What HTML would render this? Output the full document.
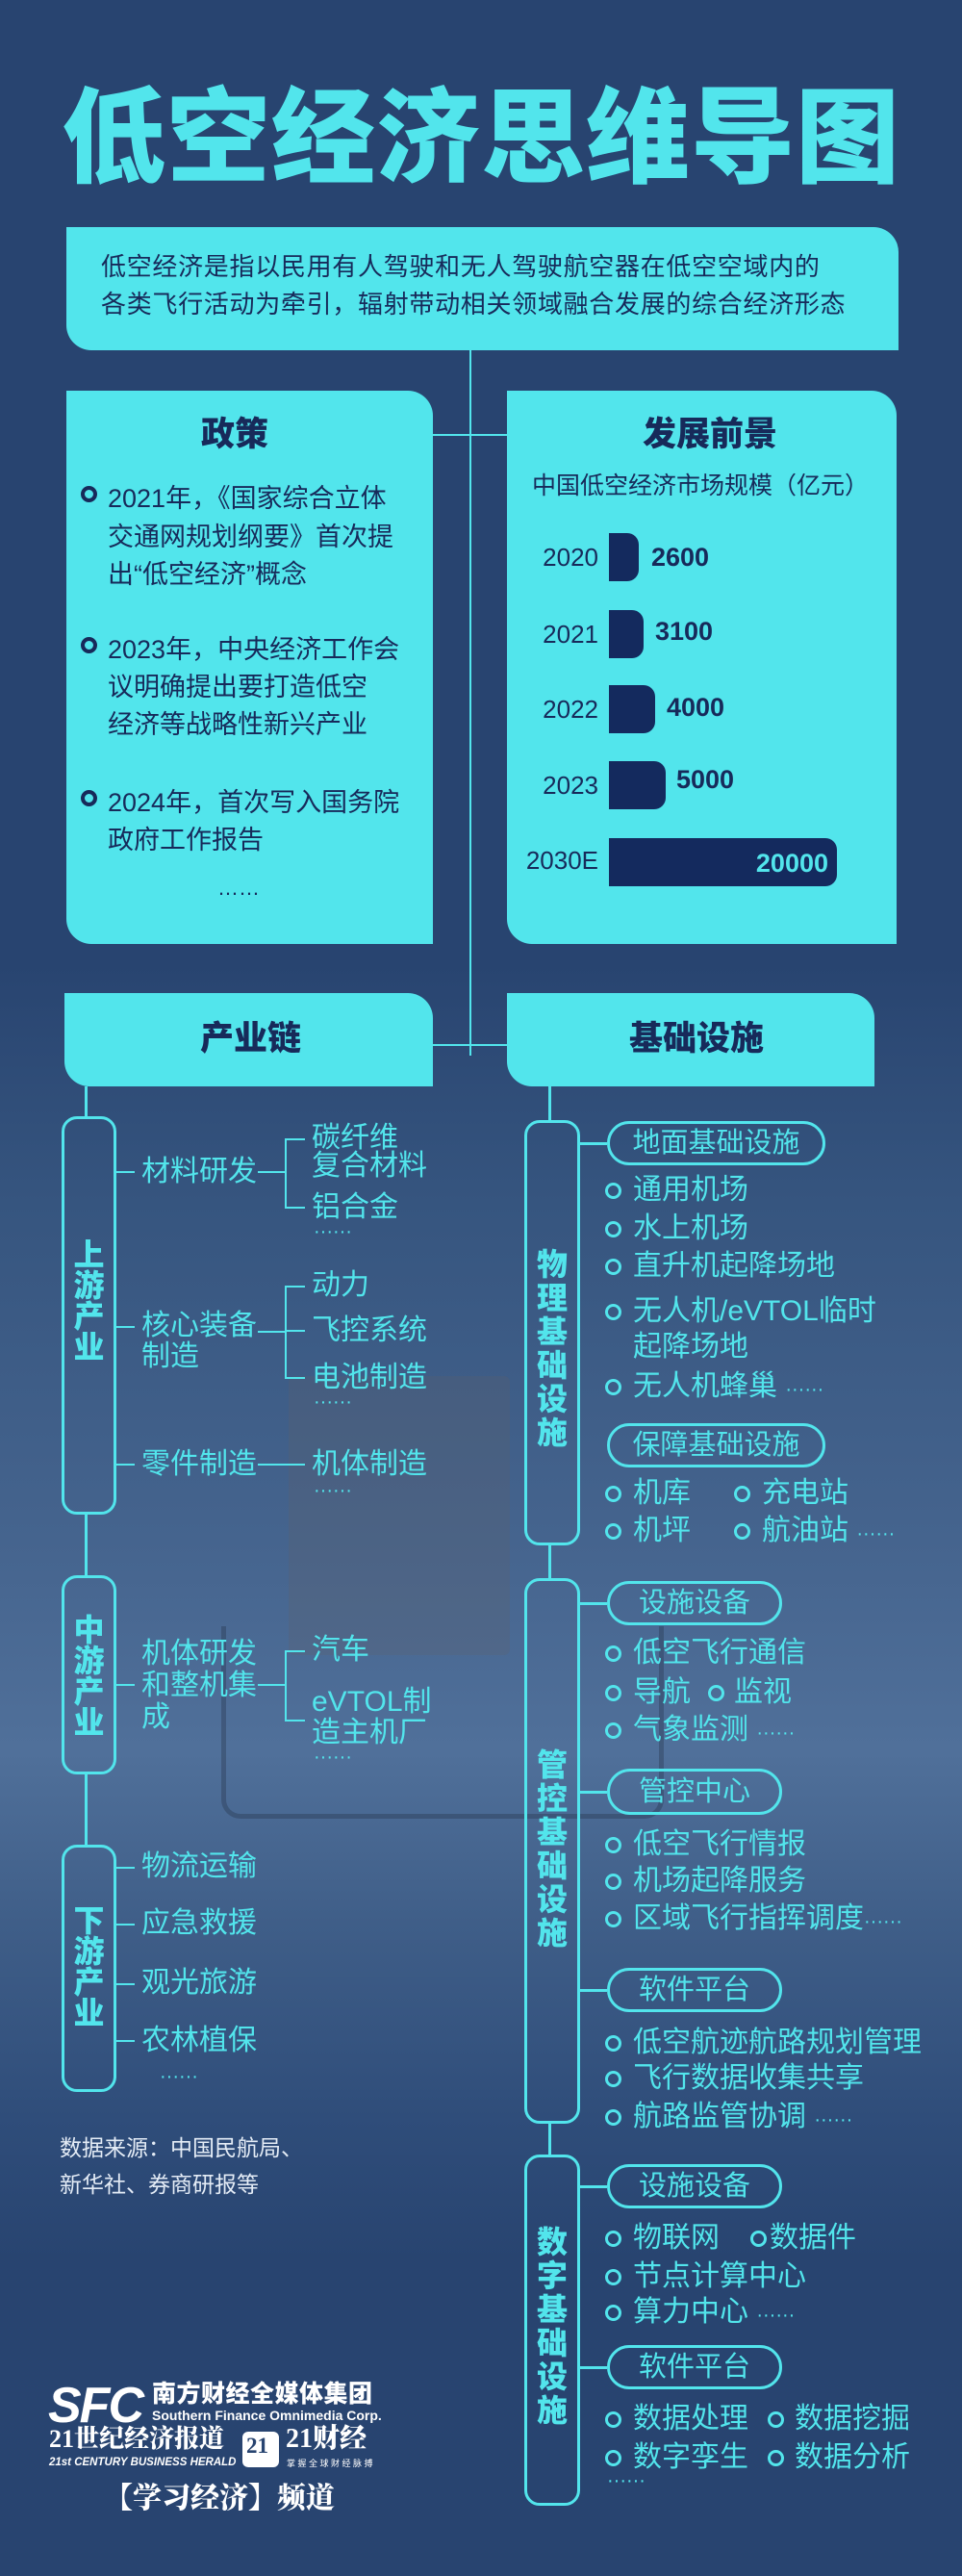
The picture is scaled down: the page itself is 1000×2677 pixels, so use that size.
<!DOCTYPE html>
<html><head><meta charset="utf-8">
<style>
*{margin:0;padding:0;box-sizing:border-box}
body{width:1000px;height:2677px;position:relative;background:#284470;overflow:hidden;font-family:"Liberation Sans","Noto Sans CJK SC",sans-serif}
.a{position:absolute}
.t{position:absolute;white-space:nowrap;line-height:1}
.c{color:#52e5ec}
.n{color:#172a5a}
.hl{position:absolute;background:#52e5ec;height:3px}
.vl{position:absolute;background:#52e5ec;width:3px}
.box{position:absolute;background:#52e5ec;border-radius:0 26px 0 26px}
.pill{position:absolute;border:3px solid #52e5ec;border-radius:16px}
.sp{position:absolute;border:3px solid #52e5ec;border-radius:24px;color:#52e5ec;font-size:29px;text-align:center}
.vt{position:absolute;color:#52e5ec;font-weight:900;font-size:32px;text-align:center;white-space:normal}
.ring{position:absolute;width:17px;height:17px;border:3.5px solid #52e5ec;border-radius:50%}
.nr{position:absolute;width:17px;height:17px;border:4px solid #172a5a;border-radius:50%}
.it{position:absolute;white-space:nowrap;line-height:1;color:#52e5ec;font-size:30px}
.bar{position:absolute;background:#142a5e;border-radius:0 12px 12px 0;height:50px}
</style></head><body>
<div class="a" style="left:0;top:1000px;width:1000px;height:1350px;background:linear-gradient(to bottom,#284470 0,#36557f 250px,#45648e 600px,#50709a 820px,#3f5e88 1000px,#2f4d7a 1200px,#284470 1350px)"></div>
<div class="a" style="left:300px;top:1430px;width:230px;height:290px;background:rgba(95,95,105,0.25);border-radius:6px"></div>
<div class="a" style="left:230px;top:1690px;width:460px;height:200px;border:5px solid rgba(30,40,60,0.3);border-top:none;border-radius:0 0 20px 20px"></div>

<div class="t c" style="left:64px;top:90px;font-size:108px;font-weight:900;letter-spacing:1px">低空经济思维导图</div>

<div class="box" style="left:69px;top:236px;width:865px;height:128px"></div>
<div class="t n" style="left:105px;top:264px;font-size:26px;letter-spacing:0.7px">低空经济是指以民用有人驾驶和无人驾驶航空器在低空空域内的</div>
<div class="t n" style="left:105px;top:303px;font-size:26px;letter-spacing:0.7px">各类飞行活动为牵引，辐射带动相关领域融合发展的综合经济形态</div>

<div class="a" style="left:488px;top:364px;width:2px;height:733px;background:#52e5ec"></div>
<div class="a" style="left:450px;top:451px;width:77px;height:2px;background:#52e5ec"></div>
<div class="a" style="left:450px;top:1085px;width:77px;height:2px;background:#52e5ec"></div>

<div class="box" style="left:69px;top:406px;width:381px;height:575px"></div>
<div class="t n" style="left:209px;top:434px;font-size:35px;font-weight:900">政策</div>
<div class="nr" style="left:84px;top:505px"></div>
<div class="t n" style="left:112px;top:499px;font-size:27px;line-height:39.5px">2021年，《国家综合立体<br>交通网规划纲要》首次提<br>出“低空经济”概念</div>
<div class="nr" style="left:84px;top:662px"></div>
<div class="t n" style="left:112px;top:656px;font-size:27px;line-height:39px">2023年，中央经济工作会<br>议明确提出要打造低空<br>经济等战略性新兴产业</div>
<div class="nr" style="left:84px;top:821px"></div>
<div class="t n" style="left:112px;top:815px;font-size:27px;line-height:39px">2024年，首次写入国务院<br>政府工作报告</div>
<div class="t n" style="left:226px;top:912px;font-size:22px">……</div>

<div class="box" style="left:527px;top:406px;width:405px;height:575px"></div>
<div class="t n" style="left:668px;top:434px;font-size:35px;font-weight:900">发展前景</div>
<div class="t n" style="left:553px;top:493px;font-size:25px">中国低空经济市场规模（亿元）</div>
<div class="t n" style="left:522px;top:566px;width:100px;text-align:right;font-size:26px">2020</div>
<div class="bar" style="left:633px;top:554px;width:31px"></div>
<div class="t n" style="left:677px;top:566px;font-size:27px;font-weight:bold">2600</div>
<div class="t n" style="left:522px;top:646px;width:100px;text-align:right;font-size:26px">2021</div>
<div class="bar" style="left:633px;top:634px;width:36px"></div>
<div class="t n" style="left:681px;top:643px;font-size:27px;font-weight:bold">3100</div>
<div class="t n" style="left:522px;top:724px;width:100px;text-align:right;font-size:26px">2022</div>
<div class="bar" style="left:633px;top:712px;width:48px"></div>
<div class="t n" style="left:693px;top:722px;font-size:27px;font-weight:bold">4000</div>
<div class="t n" style="left:522px;top:803px;width:100px;text-align:right;font-size:26px">2023</div>
<div class="bar" style="left:633px;top:791px;width:59px"></div>
<div class="t n" style="left:703px;top:797px;font-size:27px;font-weight:bold">5000</div>
<div class="t n" style="left:510px;top:881px;width:112px;text-align:right;font-size:26px">2030E</div>
<div class="bar" style="left:633px;top:871px;width:237px"></div>
<div class="t c" style="left:633px;top:884px;width:228px;text-align:right;font-size:27px;font-weight:bold">20000</div>

<div class="box" style="left:67px;top:1032px;width:383px;height:97px"></div>
<div class="t n" style="left:208px;top:1062px;font-size:35px;font-weight:900">产业链</div>
<div class="box" style="left:527px;top:1032px;width:382px;height:97px"></div>
<div class="t n" style="left:654px;top:1062px;font-size:35px;font-weight:900">基础设施</div>

<div class="vl" style="left:88px;top:1129px;height:31px"></div>
<div class="vl" style="left:88px;top:1574px;height:63px"></div>
<div class="vl" style="left:88px;top:1844px;height:73px"></div>

<div class="pill" style="left:64px;top:1160px;width:57px;height:414px"></div>
<div class="vt" style="left:64px;top:1288px;width:57px;line-height:32px">上游产业</div>
<div class="pill" style="left:64px;top:1637px;width:57px;height:207px"></div>
<div class="vt" style="left:64px;top:1678px;width:57px;line-height:32px">中游产业</div>
<div class="pill" style="left:64px;top:1917px;width:57px;height:257px"></div>
<div class="vt" style="left:64px;top:1980px;width:57px;line-height:32px">下游产业</div>

<div class="hl" style="left:121px;top:1217px;width:19px;height:2px"></div>
<div class="it" style="left:147px;top:1203px">材料研发</div>
<div class="hl" style="left:268px;top:1217px;width:29px;height:2px"></div>
<div class="a" style="left:296px;top:1183px;width:2px;height:73px;background:#52e5ec"></div>
<div class="hl" style="left:296px;top:1183px;width:21px;height:2px"></div>
<div class="hl" style="left:296px;top:1254px;width:21px;height:2px"></div>
<div class="it" style="left:324px;top:1168px">碳纤维</div>
<div class="it" style="left:324px;top:1197px">复合材料</div>
<div class="it" style="left:324px;top:1240px">铝合金</div>
<div class="it" style="left:326px;top:1270px;font-size:20px">······</div>

<div class="hl" style="left:121px;top:1378px;width:19px;height:2px"></div>
<div class="it" style="left:147px;top:1362px;line-height:32px">核心装备<br>制造</div>
<div class="hl" style="left:268px;top:1383px;width:29px;height:2px"></div>
<div class="a" style="left:296px;top:1336px;width:2px;height:97px;background:#52e5ec"></div>
<div class="hl" style="left:296px;top:1336px;width:21px;height:2px"></div>
<div class="hl" style="left:296px;top:1382px;width:21px;height:2px"></div>
<div class="hl" style="left:296px;top:1431px;width:21px;height:2px"></div>
<div class="it" style="left:324px;top:1321px">动力</div>
<div class="it" style="left:324px;top:1368px">飞控系统</div>
<div class="it" style="left:324px;top:1417px">电池制造</div>
<div class="it" style="left:326px;top:1447px;font-size:20px">······</div>

<div class="hl" style="left:121px;top:1521px;width:19px;height:2px"></div>
<div class="it" style="left:147px;top:1507px">零件制造</div>
<div class="hl" style="left:268px;top:1521px;width:49px;height:2px"></div>
<div class="it" style="left:324px;top:1507px">机体制造</div>
<div class="it" style="left:326px;top:1539px;font-size:20px">······</div>

<div class="hl" style="left:121px;top:1750px;width:19px;height:2px"></div>
<div class="it" style="left:147px;top:1702px;line-height:33px">机体研发<br>和整机集<br>成</div>
<div class="hl" style="left:268px;top:1750px;width:29px;height:2px"></div>
<div class="a" style="left:296px;top:1715px;width:2px;height:74px;background:#52e5ec"></div>
<div class="hl" style="left:296px;top:1715px;width:21px;height:2px"></div>
<div class="hl" style="left:296px;top:1787px;width:21px;height:2px"></div>
<div class="it" style="left:324px;top:1700px">汽车</div>
<div class="it" style="left:324px;top:1753px;line-height:32px">eVTOL制<br>造主机厂</div>
<div class="it" style="left:326px;top:1816px;font-size:20px">······</div>

<div class="hl" style="left:121px;top:1940px;width:19px;height:2px"></div>
<div class="it" style="left:147px;top:1925px">物流运输</div>
<div class="hl" style="left:121px;top:1999px;width:19px;height:2px"></div>
<div class="it" style="left:147px;top:1984px">应急救援</div>
<div class="hl" style="left:121px;top:2061px;width:19px;height:2px"></div>
<div class="it" style="left:147px;top:2046px">观光旅游</div>
<div class="hl" style="left:121px;top:2120px;width:19px;height:2px"></div>
<div class="it" style="left:147px;top:2106px">农林植保</div>
<div class="it" style="left:166px;top:2148px;font-size:20px">······</div>

<div class="t" style="left:62px;top:2213px;font-size:23px;color:#e4ecf6;line-height:38px">数据来源：中国民航局、<br>新华社、券商研报等</div>

<div class="vl" style="left:570px;top:1129px;height:35px"></div>
<div class="vl" style="left:570px;top:1606px;height:34px"></div>
<div class="vl" style="left:570px;top:2207px;height:32px"></div>

<div class="pill" style="left:545px;top:1164px;width:58px;height:442px"></div>
<div class="vt" style="left:545px;top:1297px;width:58px;line-height:35px">物理基础设施</div>
<div class="pill" style="left:545px;top:1640px;width:58px;height:567px"></div>
<div class="vt" style="left:545px;top:1817px;width:58px;line-height:35px">管控基础设施</div>
<div class="pill" style="left:545px;top:2239px;width:58px;height:365px"></div>
<div class="vt" style="left:545px;top:2313px;width:58px;line-height:35px">数字基础设施</div>

<div class="hl" style="left:603px;top:1187px;width:28px"></div>
<div class="sp" style="left:631px;top:1165px;width:227px;height:46px;line-height:40px">地面基础设施</div>
<div class="ring" style="left:629px;top:1229px"></div><div class="it" style="left:658px;top:1222px">通用机场</div>
<div class="ring" style="left:629px;top:1269px"></div><div class="it" style="left:658px;top:1262px">水上机场</div>
<div class="ring" style="left:629px;top:1308px"></div><div class="it" style="left:658px;top:1301px">直升机起降场地</div>
<div class="ring" style="left:629px;top:1355px"></div><div class="it" style="left:658px;top:1348px">无人机/eVTOL临时</div>
<div class="it" style="left:658px;top:1385px">起降场地</div>
<div class="ring" style="left:629px;top:1433px"></div><div class="it" style="left:658px;top:1426px">无人机蜂巢 <span style="font-size:20px">······</span></div>
<div class="sp" style="left:631px;top:1479px;width:227px;height:46px;line-height:40px">保障基础设施</div>
<div class="ring" style="left:629px;top:1544px"></div><div class="it" style="left:658px;top:1537px">机库</div>
<div class="ring" style="left:763px;top:1544px"></div><div class="it" style="left:792px;top:1537px">充电站</div>
<div class="ring" style="left:629px;top:1583px"></div><div class="it" style="left:658px;top:1576px">机坪</div>
<div class="ring" style="left:763px;top:1583px"></div><div class="it" style="left:792px;top:1576px">航油站 <span style="font-size:20px">······</span></div>

<div class="hl" style="left:603px;top:1665px;width:28px"></div>
<div class="sp" style="left:631px;top:1643px;width:182px;height:46px;line-height:40px">设施设备</div>
<div class="ring" style="left:629px;top:1710px"></div><div class="it" style="left:658px;top:1703px">低空飞行通信</div>
<div class="ring" style="left:629px;top:1751px"></div><div class="it" style="left:658px;top:1744px">导航</div>
<div class="ring" style="left:736px;top:1751px"></div><div class="it" style="left:763px;top:1744px">监视</div>
<div class="ring" style="left:629px;top:1790px"></div><div class="it" style="left:658px;top:1783px">气象监测 <span style="font-size:20px">······</span></div>
<div class="hl" style="left:603px;top:1861px;width:28px"></div>
<div class="sp" style="left:631px;top:1838px;width:182px;height:48px;line-height:42px">管控中心</div>
<div class="ring" style="left:629px;top:1909px"></div><div class="it" style="left:658px;top:1902px">低空飞行情报</div>
<div class="ring" style="left:629px;top:1947px"></div><div class="it" style="left:658px;top:1940px">机场起降服务</div>
<div class="ring" style="left:629px;top:1986px"></div><div class="it" style="left:658px;top:1979px">区域飞行指挥调度<span style="font-size:20px">······</span></div>
<div class="hl" style="left:603px;top:2067px;width:28px"></div>
<div class="sp" style="left:631px;top:2045px;width:182px;height:46px;line-height:40px">软件平台</div>
<div class="ring" style="left:629px;top:2115px"></div><div class="it" style="left:658px;top:2108px">低空航迹航路规划管理</div>
<div class="ring" style="left:629px;top:2152px"></div><div class="it" style="left:658px;top:2145px">飞行数据收集共享</div>
<div class="ring" style="left:629px;top:2192px"></div><div class="it" style="left:658px;top:2185px">航路监管协调 <span style="font-size:20px">······</span></div>

<div class="hl" style="left:603px;top:2271px;width:28px"></div>
<div class="sp" style="left:631px;top:2249px;width:182px;height:46px;line-height:40px">设施设备</div>
<div class="ring" style="left:629px;top:2318px"></div><div class="it" style="left:658px;top:2311px">物联网</div>
<div class="ring" style="left:780px;top:2318px"></div><div class="it" style="left:800px;top:2311px">数据件</div>
<div class="ring" style="left:629px;top:2358px"></div><div class="it" style="left:658px;top:2351px">节点计算中心</div>
<div class="ring" style="left:629px;top:2395px"></div><div class="it" style="left:658px;top:2388px">算力中心 <span style="font-size:20px">······</span></div>
<div class="hl" style="left:603px;top:2459px;width:28px"></div>
<div class="sp" style="left:631px;top:2437px;width:182px;height:46px;line-height:40px">软件平台</div>
<div class="ring" style="left:629px;top:2506px"></div><div class="it" style="left:658px;top:2499px">数据处理</div>
<div class="ring" style="left:798px;top:2506px"></div><div class="it" style="left:826px;top:2499px">数据挖掘</div>
<div class="ring" style="left:629px;top:2546px"></div><div class="it" style="left:658px;top:2539px">数字孪生</div>
<div class="ring" style="left:798px;top:2546px"></div><div class="it" style="left:826px;top:2539px">数据分析</div>
<div class="it" style="left:631px;top:2568px;font-size:20px">······</div>

<div class="t" style="left:50px;top:2474px;font-size:52px;font-weight:900;color:#fff;letter-spacing:-2px;font-style:italic">SFC</div>
<div class="t" style="left:158px;top:2476px;font-size:25px;font-weight:900;color:#fff;letter-spacing:0.5px">南方财经全媒体集团</div>
<div class="t" style="left:158px;top:2503px;font-size:14px;font-weight:bold;color:#fff">Southern Finance Omnimedia Corp.</div>
<div class="t" style="left:51px;top:2522px;font-size:26px;font-weight:900;color:#fff;font-family:'Liberation Serif','Noto Serif CJK SC',serif">21世纪经济报道</div>
<div class="t" style="left:51px;top:2554px;font-size:11.5px;font-weight:bold;font-style:italic;color:#fff">21st CENTURY BUSINESS HERALD</div>
<div class="a" style="left:252px;top:2527px;width:38px;height:37px;background:#fff;border-radius:6px"></div>
<div class="t" style="left:256px;top:2530px;font-size:23px;font-weight:bold;color:#284470;font-family:'Liberation Serif',serif">21</div>
<div class="t" style="left:297px;top:2521px;font-size:28px;font-weight:900;color:#fff;font-family:'Liberation Serif','Noto Serif CJK SC',serif">21财经</div>
<div class="t" style="left:298px;top:2556px;font-size:9px;color:#fff;letter-spacing:2.5px">掌握全球财经脉搏</div>
<div class="t" style="left:108px;top:2582px;font-size:30px;font-weight:900;color:#fff;font-family:'Liberation Serif','Noto Serif CJK SC',serif">【学习经济】频道</div>
</body></html>
